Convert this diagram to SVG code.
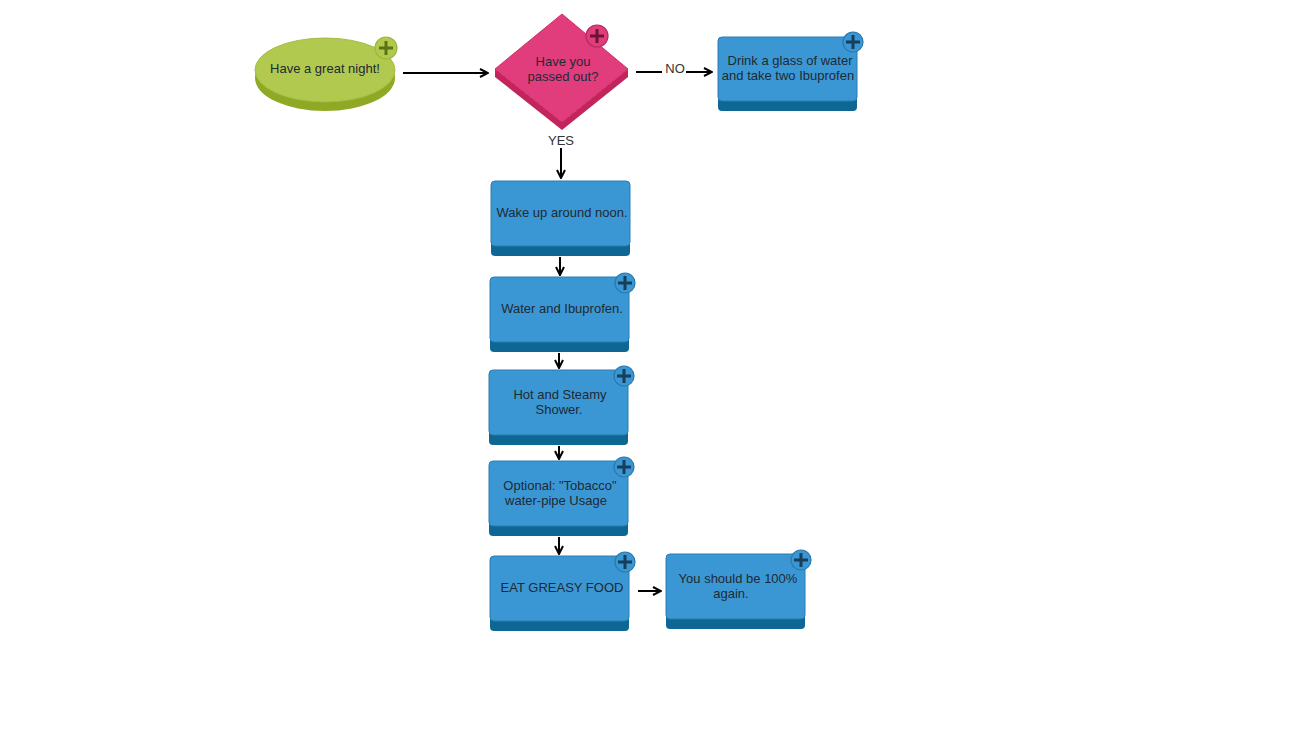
<svg xmlns="http://www.w3.org/2000/svg" width="1300" height="750" viewBox="0 0 1300 750">
<defs>
<style>
.t{font-family:"Liberation Sans",Arial,sans-serif;font-size:13px;fill:#1e2a33;text-anchor:middle}
.lb{font-family:"Liberation Sans",Arial,sans-serif;font-size:13px;fill:#333;text-anchor:middle}
.bb{fill:#0e6793}
.bt{fill:#3b97d3;stroke:#2a7db3;stroke-width:1}
.pc{fill:#3b97d3;stroke:#2a78ad;stroke-width:1.2}
.pp{stroke:#173f5c;stroke-width:3;fill:none}
.c{stroke:#000;stroke-width:2;fill:none}
</style>
<marker id="ah" viewBox="0 0 10 10" refX="9" refY="5" markerWidth="5" markerHeight="5" orient="auto" markerUnits="strokeWidth">
<path d="M1,1 L9,5 L1,9" fill="none" stroke="#000" stroke-width="2"/>
</marker>
</defs>
<rect width="1300" height="750" fill="#fff"/>

<g id="connectors">
<line class="c" x1="403" y1="73" x2="488" y2="73" marker-end="url(#ah)"/>
<line class="c" x1="636" y1="72" x2="662" y2="72"/>
<line class="c" x1="686" y1="72" x2="712" y2="72" marker-end="url(#ah)"/>
<text class="lb" x="675" y="73">NO</text>
<text class="lb" x="561" y="145">YES</text>
<line class="c" x1="561" y1="148" x2="561" y2="178" marker-end="url(#ah)"/>
<line class="c" x1="560" y1="257" x2="560" y2="275" marker-end="url(#ah)"/>
<line class="c" x1="559" y1="353" x2="559" y2="368" marker-end="url(#ah)"/>
<line class="c" x1="559" y1="446" x2="559" y2="459" marker-end="url(#ah)"/>
<line class="c" x1="559" y1="537" x2="559" y2="554" marker-end="url(#ah)"/>
<line class="c" x1="638" y1="591" x2="661" y2="591" marker-end="url(#ah)"/>
</g>

<g id="start">
<ellipse cx="325" cy="78" rx="70" ry="33" fill="#8fa924"/>
<ellipse cx="325" cy="70" rx="70" ry="32" fill="#b1c94f" stroke="#a4bd42" stroke-width="1"/>
<circle cx="386" cy="48" r="11" fill="#b1c94f" stroke="#9db83a" stroke-width="1.2"/>
<path d="M379,48 H393 M386,41 V55" stroke="#5c7315" stroke-width="3" fill="none"/>
<text class="t" x="325" y="73">Have a great night!</text>
</g>

<g id="decision">
<path d="M495,69 L562,122 L628,69 L628,77 L562,130 L495,77 Z" fill="#c2245b"/>
<path d="M562,14 L628,69 L562,122 L495,69 Z" fill="#e13d7d" stroke="#d0306d" stroke-width="1"/>
<circle cx="597" cy="36" r="11" fill="#e13d7d" stroke="#b82a62" stroke-width="1.2"/>
<path d="M590,36 H604 M597,29 V43" stroke="#6a1537" stroke-width="3" fill="none"/>
<text class="t" x="563" y="66">Have you</text>
<text class="t" x="563" y="81">passed out?</text>
</g>

<g id="drink">
<rect class="bb" x="718" y="40" width="139" height="71" rx="4"/>
<rect class="bt" x="718" y="37" width="139" height="64" rx="4"/>
<circle class="pc" cx="853" cy="42" r="10"/>
<path class="pp" d="M846,42 H860 M853,35 V49"/>
<text class="t" x="790" y="65">Drink a glass of water</text>
<text class="t" x="788" y="80">and take two Ibuprofen</text>
</g>

<g id="wake">
<rect class="bb" x="491" y="184" width="139" height="72" rx="4"/>
<rect class="bt" x="491" y="181" width="139" height="65" rx="4"/>
<text class="t" x="562" y="217">Wake up around noon.</text>
</g>

<g id="water">
<rect class="bb" x="490" y="280" width="139" height="72" rx="4"/>
<rect class="bt" x="490" y="277" width="139" height="65" rx="4"/>
<circle class="pc" cx="625" cy="283" r="10"/>
<path class="pp" d="M618,283 H632 M625,276 V290"/>
<text class="t" x="562" y="313">Water and Ibuprofen.</text>
</g>

<g id="shower">
<rect class="bb" x="489" y="373" width="139" height="72" rx="4"/>
<rect class="bt" x="489" y="370" width="139" height="65" rx="4"/>
<circle class="pc" cx="624" cy="376" r="10"/>
<path class="pp" d="M617,376 H631 M624,369 V383"/>
<text class="t" x="560" y="399">Hot and Steamy</text>
<text class="t" x="559" y="414">Shower.</text>
</g>

<g id="optional">
<rect class="bb" x="489" y="464" width="139" height="72" rx="4"/>
<rect class="bt" x="489" y="461" width="139" height="65" rx="4"/>
<circle class="pc" cx="624" cy="467" r="10"/>
<path class="pp" d="M617,467 H631 M624,460 V474"/>
<text class="t" x="560" y="490">Optional: "Tobacco"</text>
<text class="t" x="556" y="505">water-pipe Usage</text>
</g>

<g id="eat">
<rect class="bb" x="490" y="559" width="139" height="72" rx="4"/>
<rect class="bt" x="490" y="556" width="139" height="65" rx="4"/>
<circle class="pc" cx="625" cy="562" r="10"/>
<path class="pp" d="M618,562 H632 M625,555 V569"/>
<text class="t" x="562" y="592">EAT GREASY FOOD</text>
</g>

<g id="done">
<rect class="bb" x="666" y="557" width="139" height="72" rx="4"/>
<rect class="bt" x="666" y="554" width="139" height="65" rx="4"/>
<circle class="pc" cx="801" cy="560" r="10"/>
<path class="pp" d="M794,560 H808 M801,553 V567"/>
<text class="t" x="738" y="583">You should be 100%</text>
<text class="t" x="731" y="598">again.</text>
</g>
</svg>
